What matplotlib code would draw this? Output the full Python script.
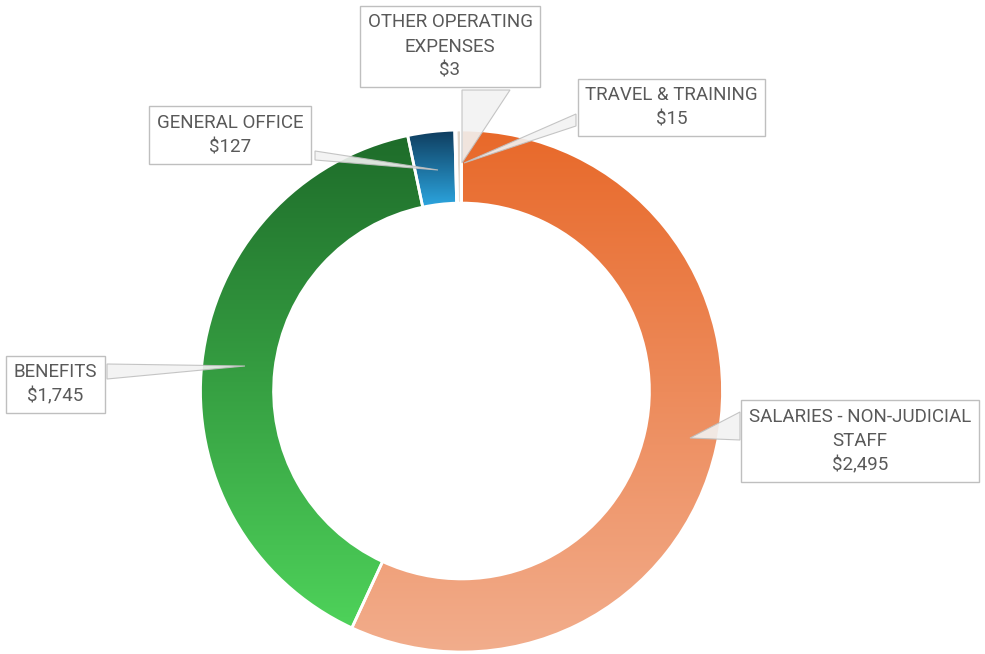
import matplotlib
matplotlib.use("Agg")
import matplotlib.pyplot as plt
import numpy as np
from matplotlib.colors import to_rgb
from matplotlib.patches import Polygon

categories = ["SALARIES - NON-JUDICIAL\nSTAFF", "BENEFITS", "GENERAL OFFICE",
              "OTHER OPERATING\nEXPENSES", "TRAVEL & TRAINING"]
values = [2495, 1745, 127, 3, 15]
value_labels = ["$2,495", "$1,745", "$127", "$3", "$15"]

grad_top = ["#E8692A", "#1E6C2A", "#0E3B5C", "#D8D8D8", "#DDD3C8"]
grad_bot = ["#F2AD8C", "#4ED25A", "#2CA6E0", "#E6E6E6", "#E8E0D6"]

W, H = 985, 654
fig = plt.figure(figsize=(W / 100, H / 100), dpi=100)
ax = fig.add_axes([0, 0, 1, 1])

cx, cy, R = 461.5, H - 391, 261
width = 0.28

wedges, _ = ax.pie(values, startangle=90, counterclock=False, radius=R,
                   center=(cx, cy), frame=True,
                   wedgeprops=dict(width=R * width, edgecolor="white", linewidth=2))

for w, ct, cb in zip(wedges, grad_top, grad_bot):
    v = w.get_path().vertices[:-1]
    x0, x1 = v[:, 0].min(), v[:, 0].max()
    y0, y1 = v[:, 1].min(), v[:, 1].max()
    t = np.linspace(0, 1, 256)[:, None]
    c0, c1 = np.array(to_rgb(cb)), np.array(to_rgb(ct))
    img = (c0[None, :] * (1 - t) + c1[None, :] * t)[:, None, :]
    im = ax.imshow(img, extent=(x0, x1 + 1e-3, y0, y1 + 1e-3), origin="lower",
                   aspect="auto", zorder=1, interpolation="bilinear")
    im.set_clip_path(w)
    w.set_facecolor("none")
    w.set_zorder(2)

ax.set_xlim(0, W)
ax.set_ylim(0, H)
ax.set_aspect("equal")
ax.axis("off")

def P(x, y):
    return (x, H - y)

# leader callouts (pixel coords of reference)
callouts = [
    [P(740, 412), P(740, 440), P(690, 438)],
    [P(107, 364), P(107, 379), P(245, 366)],
    [P(315, 151), P(315, 160), P(438, 170)],
    [P(462, 90), P(510, 90), P(462, 163)],
    [P(576, 114), P(576, 126), P(464, 163)],
]
for pts in callouts:
    ax.add_patch(Polygon(pts, closed=True, facecolor="#F2F2F2", edgecolor="#BFBFBF",
                         linewidth=0.8, zorder=3, alpha=0.9))

label_pos = [P(860, 441), P(55.5, 384.5), P(230, 135), P(450, 46.5), P(671.5, 107.5)]
font = ["Roboto", "DejaVu Sans"]
for (x, y), cat, val in zip(label_pos, categories, value_labels):
    ax.text(x, y, f"{cat}\n{val}", ha="center", va="center", multialignment="center",
            fontsize=13.5, color="#595959", family=font, linespacing=1.45, zorder=5,
            bbox=dict(boxstyle="square,pad=0.4", facecolor="white",
                      edgecolor="#BFBFBF", linewidth=1))

fig.savefig("out.png", dpi=100)
